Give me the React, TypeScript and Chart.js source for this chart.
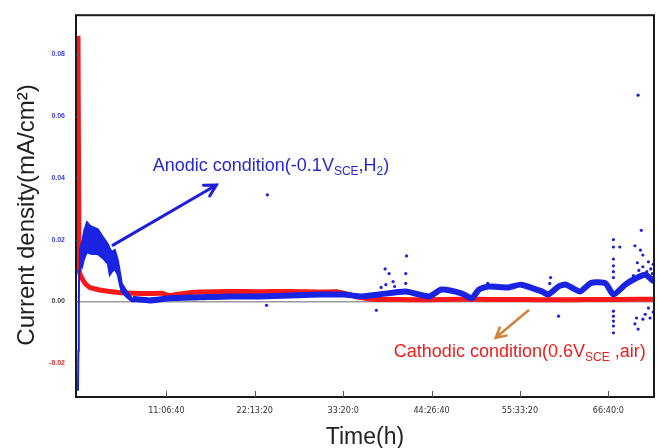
import React, { useEffect, useRef } from 'react';
import { Chart, registerables } from 'chart.js';

Chart.register(...registerables);

// ---------- data (time in hours, current density in mA/cm²) ----------
const xTickHours = [11.1111, 22.2222, 33.3333, 44.4444, 55.5556, 66.6667];
const xTickLabels = ['11:06:40', '22:13:20', '33:20:0', '44:26:40', '55:33:20', '66:40:0'];
const yTickValues = [-0.02, 0, 0.02, 0.04, 0.06, 0.08];

// Cathodic condition (red)
const redT = [0, 0.06, 0.1, 0.13, 0.3, 0.6, 1.0, 1.5, 2.2, 3.1, 4.2, 5.3, 6.9, 8.9, 10.5, 11.5, 12.8, 15.3, 19, 22.8, 26.6, 30.3, 32.5, 34, 35.5, 37, 40, 44, 48, 52, 56, 60, 64, 68, 72.4];
const redV = [0.086, 0.05, 0.028, 0.0105, 0.0085, 0.007, 0.0055, 0.0045, 0.004, 0.0035, 0.0031, 0.0028, 0.0026, 0.0025, 0.0026, 0.0019, 0.0024, 0.003, 0.0032, 0.0031, 0.0032, 0.003, 0.0031, 0.0022, 0.0012, 0.0007, 0.0006, 0.0005, 0.0007, 0.0006, 0.0006, 0.0005, 0.0006, 0.0006, 0.0007];

// Anodic condition (blue): initial rise
const blueRiseT = [0, 0.05, 0.1, 0.15, 0.25];
const blueRiseV = [-0.029, -0.016, -0.002, 0.01, 0.017];

// Anodic: noisy band in the first hours (upper / lower envelope)
const bandT = [0.25, 0.5, 0.8, 1.13, 1.5, 1.88, 2.5, 3.13, 3.76, 4.0, 4.26, 4.63, 5.0, 5.26, 5.5, 6.14, 6.76, 7.2];
const bandHi = [0.017, 0.019, 0.023, 0.0256, 0.0245, 0.024, 0.0233, 0.0208, 0.0185, 0.017, 0.016, 0.0166, 0.0134, 0.0096, 0.0058, 0.0032, 0.001, 0.0006];
const bandLo = [0.012, 0.011, 0.014, 0.016, 0.0155, 0.0153, 0.0153, 0.014, 0.0121, 0.0086, 0.0096, 0.0105, 0.0086, 0.0054, 0.003, 0.0013, 0.0, 0.0];

// Anodic: main trace afterwards
const blueT = [6.9, 9.0, 11.5, 15.3, 19.0, 22.8, 26.6, 30.3, 33.4, 35.7, 37.8, 41.2, 44.1, 45.7, 48.2, 49.5, 50.4, 51.6, 54.1, 55.7, 58.3, 59.1, 60.4, 61.3, 63.1, 64.5, 66.3, 67.3, 68.8, 70.0, 71.3, 72.4];
const blueV = [0.0008, 0.0003, 0.001, 0.0013, 0.0016, 0.0016, 0.0019, 0.0022, 0.0022, 0.0016, 0.0022, 0.0032, 0.0016, 0.0038, 0.0026, 0.001, 0.0038, 0.0048, 0.0045, 0.0054, 0.0032, 0.0022, 0.0048, 0.0054, 0.0032, 0.006, 0.0058, 0.0022, 0.0054, 0.0073, 0.0086, 0.0064];

// Anodic: scattered outlier points
const dotT = [23.8, 23.7, 37.5, 38.1, 38.6, 38.7, 39.1, 39.6, 39.8, 41.2, 41.2, 41.3, 51.5, 59.3, 59.4, 60.4,
  67.3, 67.3, 67.3, 67.3, 67.3, 67.3, 67.3, 67.3, 67.3, 67.3, 67.3, 68.1,
  69.8, 70.0, 70.3, 70.4, 70.5, 70.7, 70.8, 71.0, 71.0, 71.5, 71.7, 71.8, 72.0, 72.2, 72.3,
  70.0, 70.4, 70.2, 71.0, 71.3, 71.7, 71.9, 72.3];
const dotV = [0.0345, -0.0013, -0.0029, 0.0045, 0.0105, 0.0054, 0.009, 0.0064, 0.0048, 0.009, 0.0058, 0.0147, 0.0058, 0.0058, 0.0077, -0.0048,
  0.02, 0.0176, 0.0137, 0.0115, 0.0096, 0.0077, -0.0032, -0.0048, -0.0064, -0.008, -0.0102, 0.0176,
  0.0083, 0.018, 0.0125, 0.0668, 0.01, 0.0166, 0.023, 0.015, 0.0112, 0.0096, 0.0128, 0.0075, 0.0105, 0.009, 0.012,
  -0.0073, -0.009, -0.0054, -0.0058, -0.0042, -0.0022, -0.0054, -0.0035];

// Annotation anchors (data coordinates)
const anodicArrow = [[4.4, 0.0182], [17.4, 0.0377]];
const anodicLabelAt = [9.4, 0.0422];
const cathodicArrow = [[56.6, -0.003], [52.5, -0.0118]];
const cathodicLabelAt = [39.7, -0.0182];

const FONT = "'Liberation Sans', Arial, sans-serif";
const BLUE = 'rgb(25,35,225)';
const RED = 'rgb(250,25,25)';

const pts = (t: number[], v: number[]) => t.map((x, i) => ({ x, y: v[i] }));

function drawRich(ctx: CanvasRenderingContext2D, x: number, y: number, parts: { t: string; sub?: boolean }[], size: number, color: string) {
  ctx.fillStyle = color;
  ctx.textBaseline = 'alphabetic';
  ctx.textAlign = 'left';
  let cx = x;
  for (const p of parts) {
    if (p.sub) {
      ctx.font = `${Math.round(size * 0.64)}px ${FONT}`;
      ctx.fillText(p.t, cx, y + size * 0.22);
    } else {
      ctx.font = `${size}px ${FONT}`;
      ctx.fillText(p.t, cx, y);
    }
    cx += ctx.measureText(p.t).width;
  }
}

function drawArrow(ctx: CanvasRenderingContext2D, x1: number, y1: number, x2: number, y2: number, color: string, w: number, head: number) {
  ctx.strokeStyle = color;
  ctx.lineWidth = w;
  ctx.lineCap = 'round';
  ctx.beginPath();
  ctx.moveTo(x1, y1);
  ctx.lineTo(x2, y2);
  const a = Math.atan2(y2 - y1, x2 - x1);
  ctx.moveTo(x2 - head * Math.cos(a - 0.5), y2 - head * Math.sin(a - 0.5));
  ctx.lineTo(x2, y2);
  ctx.lineTo(x2 - head * Math.cos(a + 0.5), y2 - head * Math.sin(a + 0.5));
  ctx.stroke();
}

const decorPlugin = {
  id: 'decor',
  afterDraw(chart: any) {
    const { ctx, chartArea: ca, scales } = chart;
    const xs = scales.x;
    const ys = scales.y;
    ctx.save();
    // frame
    ctx.strokeStyle = '#1a1a1a';
    ctx.lineWidth = 2;
    ctx.strokeRect(ca.left, ca.top, ca.right - ca.left, ca.bottom - ca.top);
    // inside tick marks
    ctx.strokeStyle = '#555';
    ctx.lineWidth = 1;
    ctx.beginPath();
    xTickHours.forEach((h) => {
      const px = Math.round(xs.getPixelForValue(h)) + 0.5;
      ctx.moveTo(px, ca.bottom);
      ctx.lineTo(px, ca.bottom - 6);
    });
    yTickValues.forEach((v) => {
      const py = Math.round(ys.getPixelForValue(v)) + 0.5;
      ctx.moveTo(ca.left, py);
      ctx.lineTo(ca.left + 3, py);
    });
    ctx.stroke();

    // arrows
    drawArrow(ctx,
      xs.getPixelForValue(anodicArrow[0][0]), ys.getPixelForValue(anodicArrow[0][1]),
      xs.getPixelForValue(anodicArrow[1][0]), ys.getPixelForValue(anodicArrow[1][1]),
      'rgb(30,30,220)', 3, 13);
    drawArrow(ctx,
      xs.getPixelForValue(cathodicArrow[0][0]), ys.getPixelForValue(cathodicArrow[0][1]),
      xs.getPixelForValue(cathodicArrow[1][0]), ys.getPixelForValue(cathodicArrow[1][1]),
      'rgb(210,130,60)', 2.5, 11);

    // labels
    drawRich(ctx, xs.getPixelForValue(anodicLabelAt[0]), ys.getPixelForValue(anodicLabelAt[1]),
      [{ t: 'Anodic condition(-0.1V' }, { t: 'SCE', sub: true }, { t: ',H' }, { t: '2', sub: true }, { t: ')' }],
      18, 'rgb(40,40,210)');
    drawRich(ctx, xs.getPixelForValue(cathodicLabelAt[0]), ys.getPixelForValue(cathodicLabelAt[1]),
      [{ t: 'Cathodic condition(0.6V' }, { t: 'SCE', sub: true }, { t: ' ,air)' }],
      18, 'rgb(235,30,30)');

    // y axis title
    ctx.translate(27, 215);
    ctx.rotate(-Math.PI / 2);
    ctx.font = `24px ${FONT}`;
    ctx.fillStyle = '#222';
    ctx.textAlign = 'center';
    ctx.textBaseline = 'middle';
    ctx.fillText('Current density(mA/cm²)', 0, 0);
    ctx.restore();
  },
};

export default function App() {
  const ref = useRef<HTMLCanvasElement | null>(null);

  useEffect(() => {
    if (!ref.current) return;
    const chart = new Chart(ref.current, {
      type: 'scatter',
      data: {
        datasets: [
          {
            data: pts(redT, redV), showLine: true, borderColor: RED, borderWidth: 5,
            pointRadius: 0, tension: 0.2, order: 3,
          },
          {
            data: pts(bandT, bandHi), showLine: true, borderColor: BLUE, borderWidth: 2,
            pointRadius: 0, tension: 0, order: 2,
          },
          {
            data: pts(bandT, bandLo), showLine: true, borderColor: BLUE, borderWidth: 2,
            backgroundColor: BLUE, fill: '-1', pointRadius: 0, tension: 0, order: 2,
          },
          {
            data: pts(blueRiseT, blueRiseV), showLine: true, borderColor: BLUE, borderWidth: 2,
            pointRadius: 0, order: 1,
          },
          {
            data: pts(blueT, blueV), showLine: true, borderColor: BLUE, borderWidth: 6,
            pointRadius: 0, tension: 0.2, order: 1,
          },
          {
            data: pts(dotT, dotV), showLine: false, pointRadius: 1.6, borderWidth: 0,
            pointBackgroundColor: BLUE, backgroundColor: BLUE, order: 0,
          },
        ] as any,
      },
      options: {
        responsive: false,
        animation: false,
        devicePixelRatio: 1,
        layout: { padding: { top: 10, right: 2, left: 0, bottom: 0 } },
        plugins: { legend: { display: false }, tooltip: { enabled: false } },
        scales: {
          x: {
            type: 'linear',
            min: -0.25,
            max: 72.4,
            afterFit: (s: any) => { s.height = 51; },
            afterBuildTicks: (s: any) => { s.ticks = xTickHours.map((v) => ({ value: v })); },
            grid: { display: false, drawTicks: false },
            border: { display: false },
            ticks: {
              autoSkip: false,
              maxRotation: 0,
              padding: 8,
              color: '#333',
              font: { size: 9, family: "'Liberation Sans Narrow', 'DejaVu Sans Condensed', " + FONT },
              callback: (_v: any, i: number) => xTickLabels[i],
            },
            title: {
              display: true, text: 'Time(h)', color: '#222',
              font: { size: 23, family: FONT }, padding: { top: 0, bottom: -3 },
            },
          },
          y: {
            type: 'linear',
            min: -0.031,
            max: 0.0927,
            afterFit: (s: any) => { s.width = 76; },
            afterBuildTicks: (s: any) => { s.ticks = yTickValues.map((v) => ({ value: v })); },
            grid: {
              drawTicks: false,
              lineWidth: 1.5,
              color: (c: any) => (c.tick && Math.abs(c.tick.value) < 1e-9 ? '#9a9a9a' : 'rgba(0,0,0,0)'),
            },
            border: { display: false },
            ticks: {
              padding: 11,
              font: { size: 7, weight: 'bold', family: FONT },
              color: (c: any) => {
                const v = c.tick ? c.tick.value : 0;
                if (v > 1e-9) return 'rgb(60,60,225)';
                if (v < -1e-9) return 'rgb(230,40,40)';
                return '#444';
              },
              callback: (v: any) => Number(v).toFixed(2),
            },
          },
        },
      } as any,
      plugins: [decorPlugin],
    });
    return () => chart.destroy();
  }, []);

  return (
    <canvas
      ref={ref}
      width={658}
      height={448}
      style={{ position: 'fixed', left: 0, top: 0, width: 658, height: 448, background: '#fff' }}
    />
  );
}
